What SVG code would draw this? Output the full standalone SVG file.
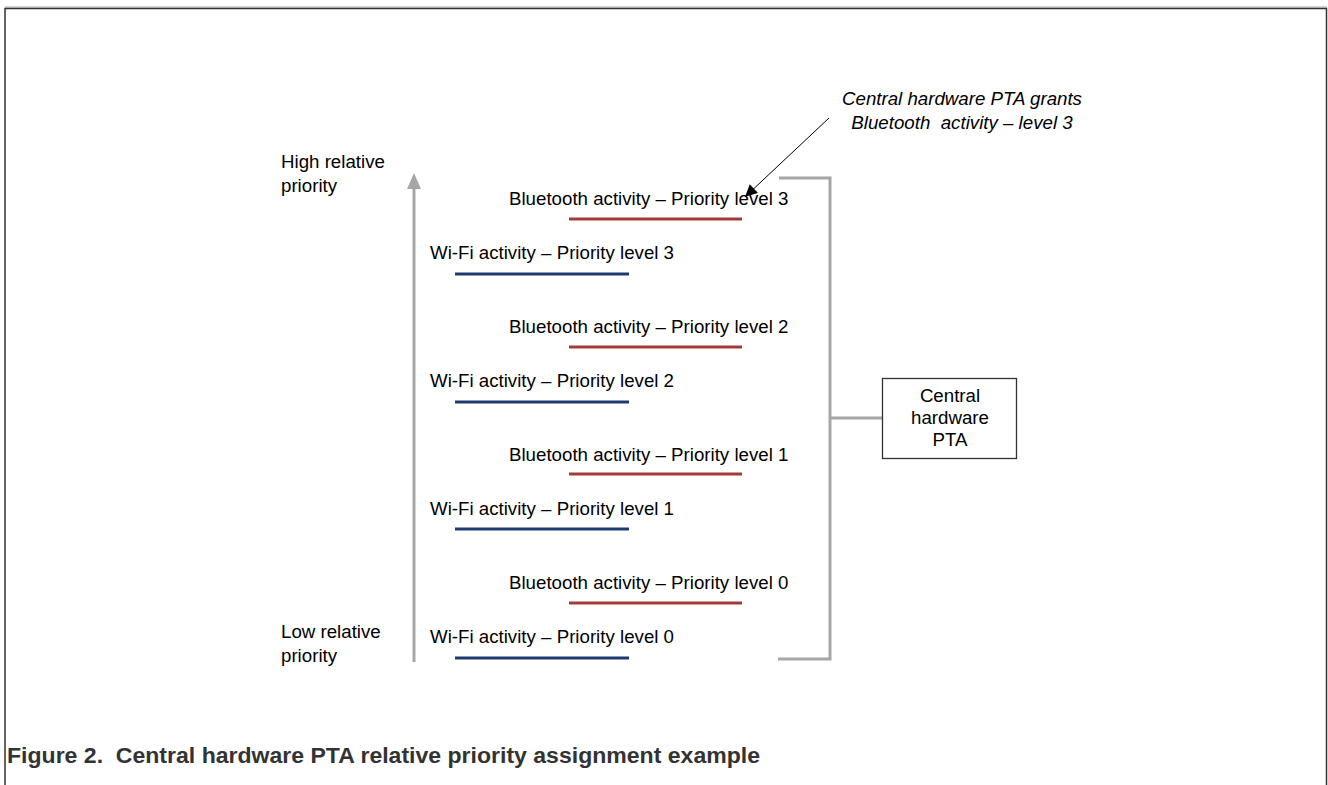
<svg xmlns="http://www.w3.org/2000/svg" width="1328" height="785" viewBox="0 0 1328 785">
<defs>
<style>
text{font-family:"Liberation Sans",Arial,sans-serif;fill:#000;white-space:pre}
.lbl{font-size:18.7px}
.it{font-style:italic}
.gray{stroke:#a6a6a6;stroke-width:3;fill:none}
.bt{stroke:#a33b35;stroke-width:3}
.wf{stroke:#1f3a6e;stroke-width:3}
</style>
<marker id="ah" viewBox="0 0 10 10" refX="9" refY="5" markerWidth="15" markerHeight="12" markerUnits="userSpaceOnUse" orient="auto">
<path d="M0,0 L10,5 L0,10 z" fill="#000"/>
</marker>
</defs>
<rect width="1328" height="785" fill="#fff"/>
<g id="frame">
<line x1="5" y1="7" x2="1327" y2="7" stroke="#aaaaaa" stroke-width="1"/>
<path d="M5,785 V8.5 H1326.5 V785" fill="none" stroke="#333" stroke-width="1.5"/>
</g>
<g id="axis">
<line x1="414" y1="662" x2="414" y2="186" stroke="#a6a6a6" stroke-width="3"/>
<path d="M414,173 L421,189 L407,189 z" fill="#a6a6a6"/>
<text class="lbl" x="281" y="168">High relative</text>
<text class="lbl" x="281" y="192">priority</text>
<text class="lbl" x="281" y="638">Low relative</text>
<text class="lbl" x="281" y="662">priority</text>
</g>
<g id="levels">
<g id="bt3"><text class="lbl" x="509" y="205">Bluetooth activity – Priority level 3</text><line class="bt" x1="569" y1="219" x2="742" y2="219"/></g>
<g id="wf3"><text class="lbl" x="430" y="259">Wi-Fi activity – Priority level 3</text><line class="wf" x1="455" y1="274" x2="629" y2="274"/></g>
<g id="bt2"><text class="lbl" x="509" y="333">Bluetooth activity – Priority level 2</text><line class="bt" x1="569" y1="347" x2="742" y2="347"/></g>
<g id="wf2"><text class="lbl" x="430" y="387">Wi-Fi activity – Priority level 2</text><line class="wf" x1="455" y1="402" x2="629" y2="402"/></g>
<g id="bt1"><text class="lbl" x="509" y="461">Bluetooth activity – Priority level 1</text><line class="bt" x1="569" y1="474" x2="742" y2="474"/></g>
<g id="wf1"><text class="lbl" x="430" y="515">Wi-Fi activity – Priority level 1</text><line class="wf" x1="455" y1="529" x2="629" y2="529"/></g>
<g id="bt0"><text class="lbl" x="509" y="589">Bluetooth activity – Priority level 0</text><line class="bt" x1="569" y1="603" x2="742" y2="603"/></g>
<g id="wf0"><text class="lbl" x="430" y="643">Wi-Fi activity – Priority level 0</text><line class="wf" x1="455" y1="658" x2="629" y2="658"/></g>
</g>
<g id="connectors">
<path class="gray" d="M779,178 H830 V659 H778"/>
<line class="gray" x1="830" y1="418" x2="882" y2="418"/>
<line x1="829" y1="118" x2="746" y2="196" stroke="#000" stroke-width="1" marker-end="url(#ah)"/>
</g>
<g id="pta">
<rect x="882.5" y="378.5" width="134" height="80" fill="#fff" stroke="#333" stroke-width="1.3"/>
<text class="lbl" x="950" y="402" text-anchor="middle">Central</text>
<text class="lbl" x="950" y="424" text-anchor="middle">hardware</text>
<text class="lbl" x="950" y="446" text-anchor="middle">PTA</text>
</g>
<g id="callout">
<text class="lbl it" x="962" y="105" text-anchor="middle">Central hardware PTA grants</text>
<text class="lbl it" x="962" y="129" text-anchor="middle" xml:space="preserve">Bluetooth  activity – level 3</text>
</g>
<text id="caption" x="7" y="763" font-size="22" font-weight="bold" style="fill:#333" textLength="753" lengthAdjust="spacingAndGlyphs" xml:space="preserve">Figure 2.  Central hardware PTA relative priority assignment example</text>
</svg>
